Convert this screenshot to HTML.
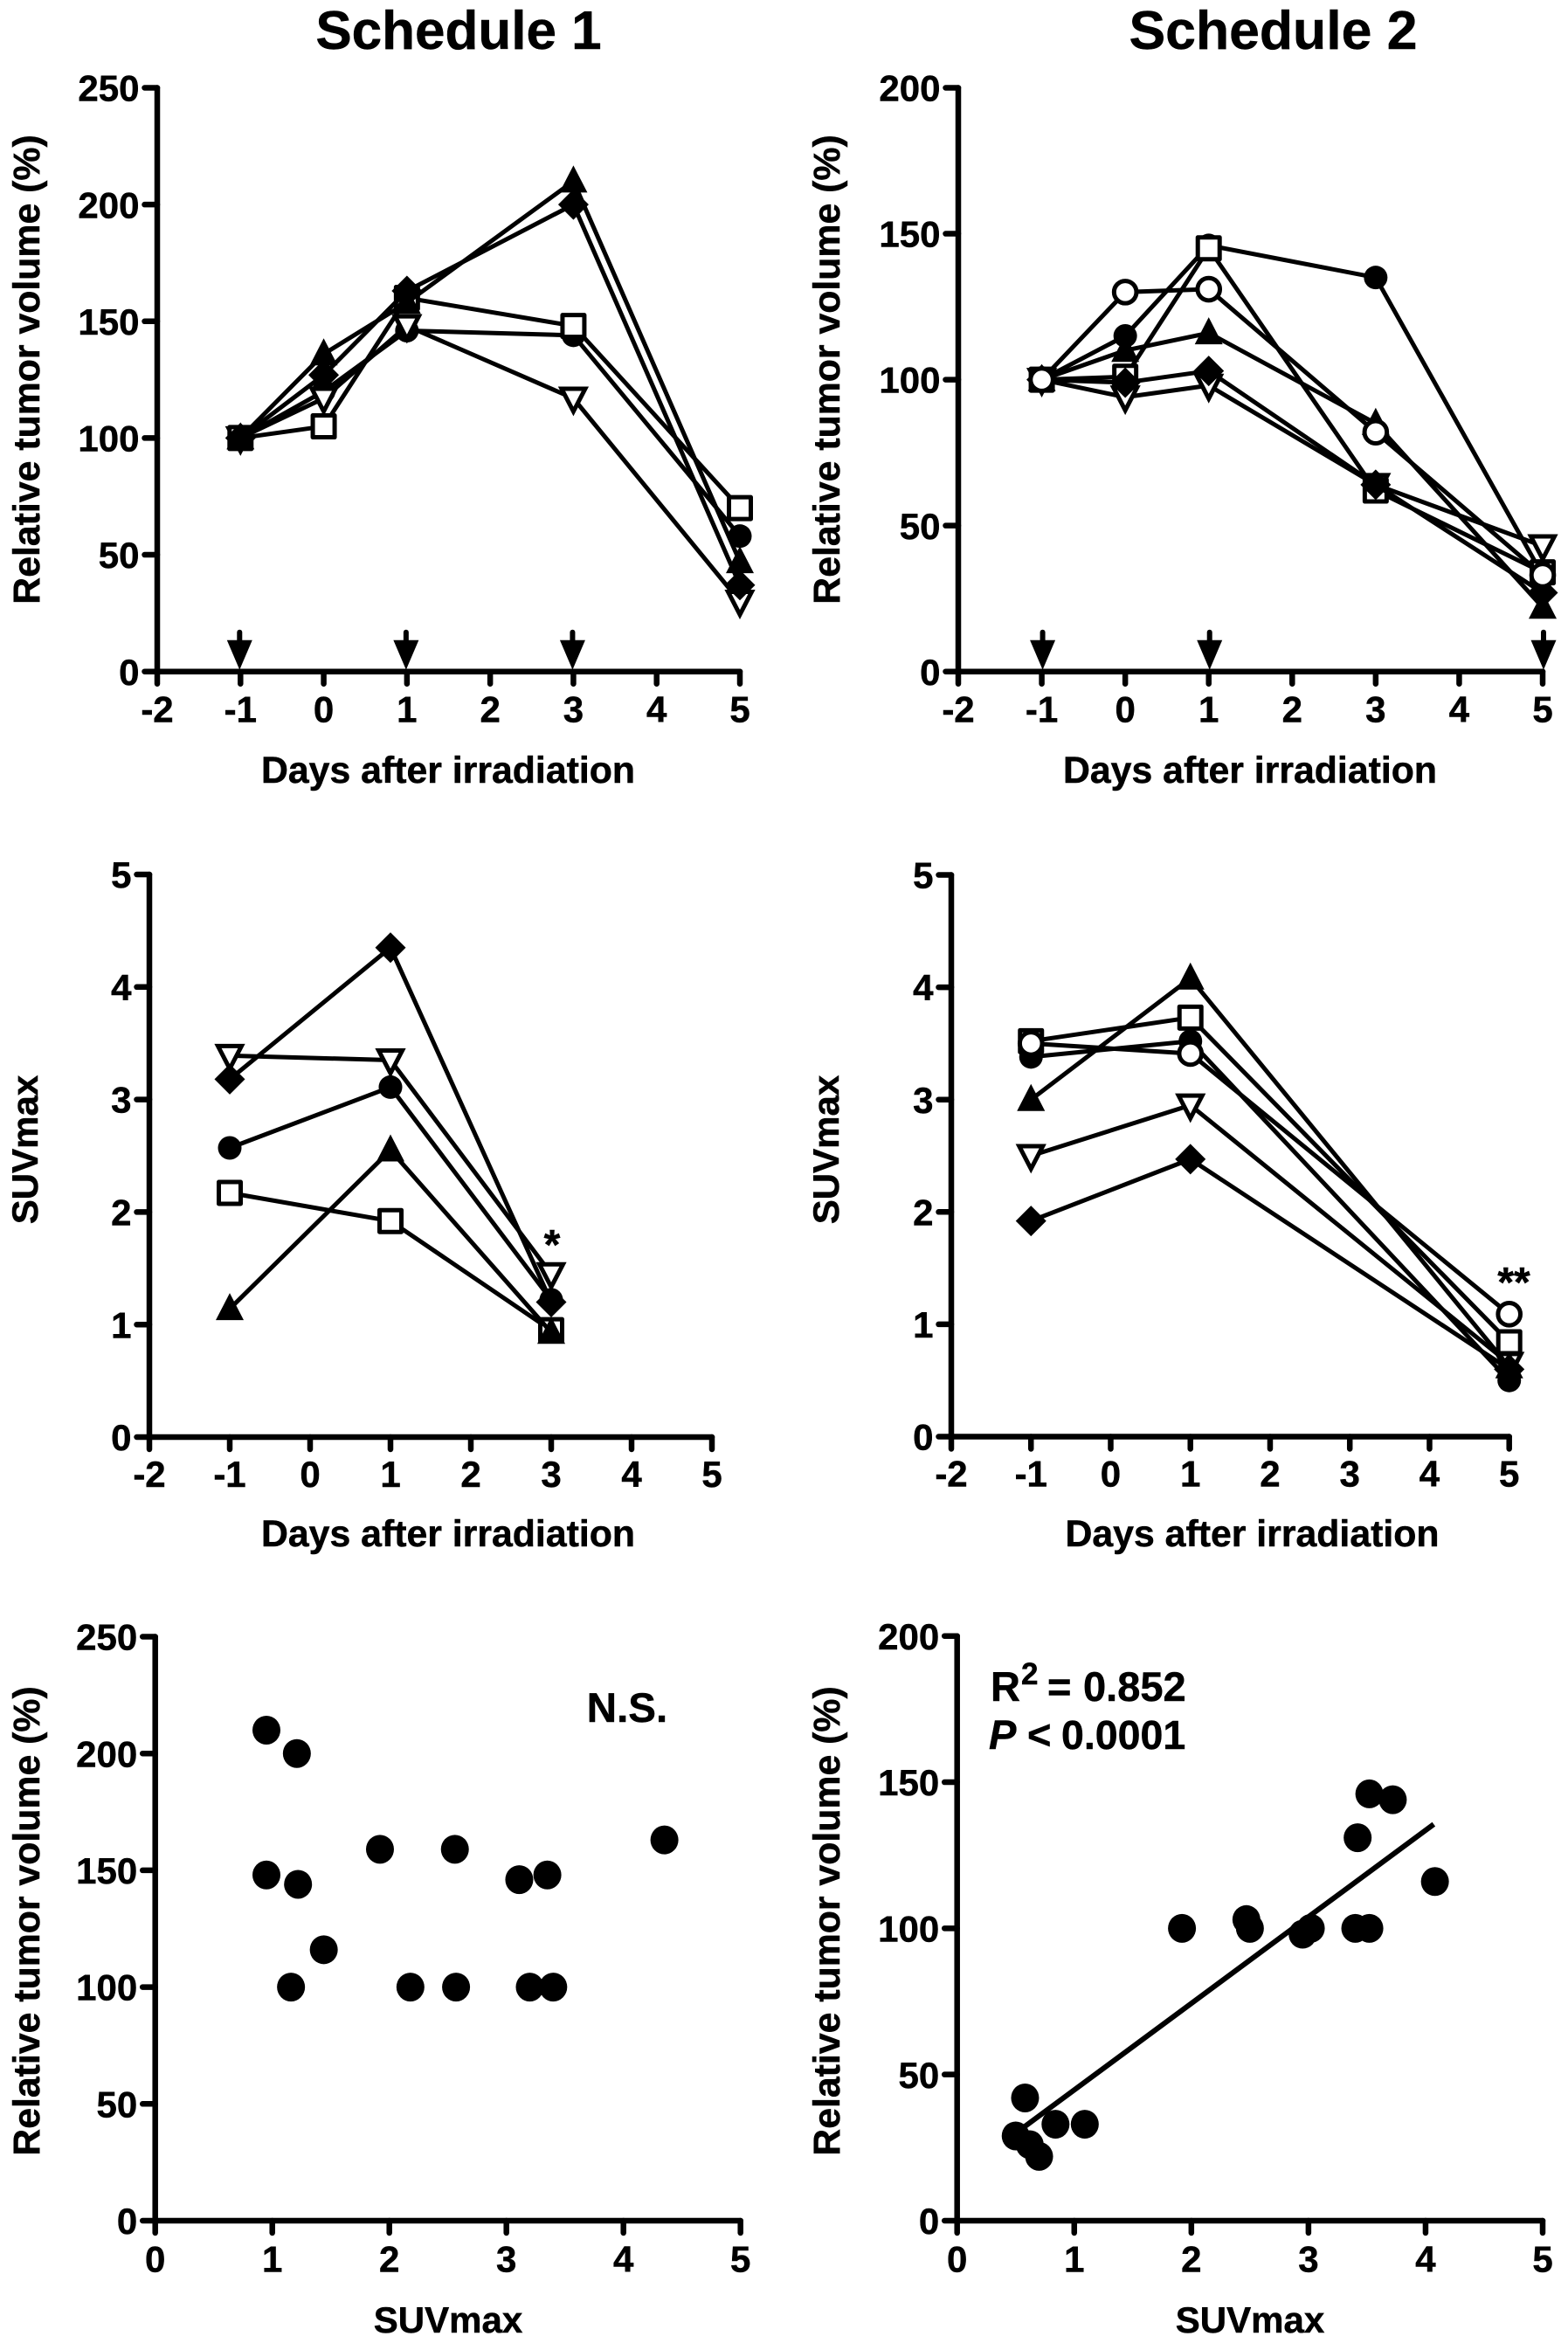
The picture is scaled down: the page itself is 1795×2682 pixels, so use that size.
<!DOCTYPE html>
<html lang="en">
<head>
<meta charset="utf-8">
<title>Schedule 1 and Schedule 2 tumor volume and SUVmax charts</title>
<style>
html,body{margin:0;padding:0;background:#fff;}
svg{display:block;}
text{font-family:"Liberation Sans",Arial,sans-serif;font-weight:bold;fill:#000;stroke:#000;stroke-width:0.5px;}
</style>
</head>
<body>
<svg id="figure" xmlns="http://www.w3.org/2000/svg" width="1795" height="2682" viewBox="0 0 1795 2682">
  <rect x="0" y="0" width="1795" height="2682" fill="#fff"/>

  <text x="525" y="56" font-size="62" text-anchor="middle">Schedule 1</text>
  <text x="1457.5" y="56" font-size="62.5" text-anchor="middle">Schedule 2</text>

  <g id="panel1">
    <text transform="translate(45,423) rotate(-90)" font-size="42.8" text-anchor="middle">Relative tumor volume (%)</text>
    <text x="513" y="896" font-size="42.8" text-anchor="middle">Days after irradiation</text>
  </g>
  <g id="panel2">
    <text transform="translate(961,423) rotate(-90)" font-size="42.8" text-anchor="middle">Relative tumor volume (%)</text>
    <text x="1431" y="896" font-size="42.8" text-anchor="middle">Days after irradiation</text>
  </g>
  <g id="panel3">
    <text transform="translate(43,1316) rotate(-90)" font-size="42" text-anchor="middle">SUVmax</text>
    <text x="513" y="1770" font-size="42.8" text-anchor="middle">Days after irradiation</text>
    <text x="632" y="1441" font-size="48" text-anchor="middle">*</text>
  </g>
  <g id="panel4">
    <text transform="translate(960,1316) rotate(-90)" font-size="42" text-anchor="middle">SUVmax</text>
    <text x="1433.5" y="1770" font-size="42.8" text-anchor="middle">Days after irradiation</text>
    <text x="1733" y="1484" font-size="48" text-anchor="middle">**</text>
  </g>
  <g id="panel5">
    <text transform="translate(45,2199) rotate(-90)" font-size="42.8" text-anchor="middle">Relative tumor volume (%)</text>
    <text x="513" y="2670" font-size="42" text-anchor="middle">SUVmax</text>
    <text x="718" y="1971" font-size="47.5" text-anchor="middle">N.S.</text>
  </g>
  <g id="panel6">
    <text transform="translate(961,2199) rotate(-90)" font-size="42.8" text-anchor="middle">Relative tumor volume (%)</text>
    <text x="1431" y="2670" font-size="42" text-anchor="middle">SUVmax</text>
    <text y="1947" font-size="47"><tspan x="1134">R</tspan><tspan x="1169" y="1928" font-size="35">2</tspan><tspan x="1199" y="1947">=</tspan><tspan x="1240" y="1947">0.852</tspan></text>
    <text y="2002" font-size="47"><tspan x="1132" font-style="italic">P</tspan><tspan x="1176">&lt;</tspan><tspan x="1215" font-size="46.5">0.0001</tspan></text>
  </g>
</svg>

<script>
// Shared tick labels
const dayTickLabels = [-2, -1, 0, 1, 2, 3, 4, 5];
const volumeTicks250 = [0, 50, 100, 150, 200, 250];
const volumeTicks200 = [0, 50, 100, 150, 200];
const suvTicks = [0, 1, 2, 3, 4, 5];
const suvXTicks = [0, 1, 2, 3, 4, 5];

// Panel 1: Schedule 1, relative tumor volume
const p1Days = [-1, 0, 1, 3, 5];
const p1Circle = [100, 120, 146, 144, 58];
const p1InvTriangle = [100, 117, 148, 117, 30];
const p1Square = [100, 105, 160, 148, 70];
const p1Triangle = [100, 136, 158, 210, 47];
const p1Diamond = [100, 127, 163, 200, 37];
const p1ArrowDays = [-1, 1, 3];

// Panel 2: Schedule 2, relative tumor volume
const p2Days = [-1, 0, 1, 3, 5];
const p2Triangle = [100, 110, 116, 85, 22];
const p2Circle = [100, 115, 146, 135, 33];
const p2InvTriangle = [100, 94, 98, 64, 43];
const p2Square = [100, 101, 145, 62, 34];
const p2Diamond = [100, 99, 103, 64, 27];
const p2OpenCircle = [100, 130, 131, 82, 33];
const p2ArrowDays = [-1, 1, 5];

// Panel 3: Schedule 1, SUVmax
const p3Days = [-1, 1, 3];
const p3Circle = [2.57, 3.11, 1.22];
const p3InvTriangle = [3.39, 3.35, 1.45];
const p3Square = [2.17, 1.92, 0.95];
const p3Triangle = [1.14, 2.55, 0.93];
const p3Diamond = [3.18, 4.35, 1.2];

// Panel 4: Schedule 2, SUVmax
const p4Days = [-1, 1, 5];
const p4Circle = [3.38, 3.52, 0.5];
const p4InvTriangle = [2.5, 2.95, 0.65];
const p4Square = [3.52, 3.73, 0.84];
const p4Triangle = [3.0, 4.08, 0.62];
const p4Diamond = [1.92, 2.47, 0.6];
const p4OpenCircle = [3.5, 3.41, 1.09];

// Panel 5: Schedule 1 scatter
const p5Suv = [0.95, 1.21, 0.95, 1.22, 1.44, 1.16, 1.92, 2.56, 2.18, 2.57, 3.11, 3.35, 3.2, 3.4, 4.35];
const p5Volume = [210, 200, 148, 144, 116, 100, 159, 159, 100, 100, 146, 148, 100, 100, 163];

// Panel 6: Schedule 2 scatter and regression
const p6Suv = [0.5, 0.58, 0.62, 0.7, 0.84, 1.09, 1.92, 2.47, 2.5, 2.95, 3.02, 3.4, 3.52, 3.42, 3.52, 3.72, 4.08];
const p6Volume = [29, 42, 26, 22, 33, 33, 100, 103, 100, 98, 100, 100, 100, 131, 146, 144, 116];
const p6FitSuv = [0.57, 4.07];
const p6FitVolume = [32, 135.6];

const SVG_NS = 'http://www.w3.org/2000/svg';
const LINE_W = 5;
const AXIS_W = 6.5;

function mk(tag, parent, attrs) {
  const el = document.createElementNS(SVG_NS, tag);
  for (const k in attrs) el.setAttribute(k, attrs[k]);
  parent.appendChild(el);
  return el;
}
function linearScale(d0, d1, r0, r1) {
  return function (v) { return r0 + (v - d0) * (r1 - r0) / (d1 - d0); };
}
function drawAxes(g, sx, sy, xTicks, yTicks, cfg) {
  const axes = mk('g', g, {});
  
  
  const x0 = sx(xTicks[0]), x1 = sx(xTicks[xTicks.length - 1]);
  const y0 = sy(yTicks[0]), y1 = sy(yTicks[yTicks.length - 1]);
  const common = {stroke: '#000', 'stroke-width': AXIS_W, 'stroke-linecap': 'round'};
  const yLine = mk('line', axes, Object.assign({x1: x0, y1: y0, x2: x0, y2: y1}, common));
  
  
  const xLine = mk('line', axes, Object.assign({x1: x0, y1: y0, x2: x1, y2: y0}, common));
  
  
  xTicks.forEach(function (t) {
    const tick = mk('line', axes, Object.assign({x1: sx(t), y1: y0, x2: sx(t), y2: y0 + 14}, common));
    
    
    const label = mk('text', axes, {x: sx(t), y: y0 + cfg.xLabelDy, 'font-size': cfg.tickSize, 'text-anchor': 'middle'});
    label.textContent = String(t);
    
    
  });
  yTicks.forEach(function (t) {
    const tick = mk('line', axes, Object.assign({x1: x0 - 14.5, y1: sy(t), x2: x0, y2: sy(t)}, common));
    
    
    const label = mk('text', axes, {x: x0 - 20.5, y: sy(t) + cfg.tickSize * 0.36, 'font-size': cfg.tickSize, 'text-anchor': 'end'});
    label.textContent = String(t);
    
    
  });
}
function drawMarker(parent, shape, cx, cy) {
  let m;
  if (shape === 'circle') {
    m = mk('circle', parent, {cx: cx, cy: cy, r: 13.5, fill: '#000'});
  } else if (shape === 'openCircle') {
    m = mk('circle', parent, {cx: cx, cy: cy, r: 12.8, fill: '#fff', stroke: '#000', 'stroke-width': LINE_W});
  } else if (shape === 'square') {
    m = mk('rect', parent, {x: cx - 12.5, y: cy - 12.5, width: 25, height: 25, fill: '#fff', stroke: '#000', 'stroke-width': LINE_W, 'stroke-linejoin': 'round'});
  } else if (shape === 'triangle') {
    m = mk('polygon', parent, {points: (cx - 16) + ',' + (cy + 13) + ' ' + (cx + 16) + ',' + (cy + 13) + ' ' + cx + ',' + (cy - 18), fill: '#000'});
  } else if (shape === 'invTriangle') {
    m = mk('polygon', parent, {points: (cx - 13.5) + ',' + (cy - 11) + ' ' + (cx + 13.5) + ',' + (cy - 11) + ' ' + cx + ',' + (cy + 15), fill: '#fff', stroke: '#000', 'stroke-width': LINE_W, 'stroke-linejoin': 'miter'});
  } else {
    m = mk('polygon', parent, {points: (cx - 17.5) + ',' + cy + ' ' + cx + ',' + (cy - 17.5) + ' ' + (cx + 17.5) + ',' + cy + ' ' + cx + ',' + (cy + 17.5), fill: '#000'});
  }
  return m;
}
function drawSeries(g, sx, sy, days, values, shape, name) {
  const s = mk('g', g, {});
  
  
  const pts = days.map(function (d, i) { return sx(d) + ',' + sy(values[i]); }).join(' ');
  const line = mk('polyline', s, {points: pts, fill: 'none', stroke: '#000', 'stroke-width': LINE_W, 'stroke-linejoin': 'round'});
  
  
  days.forEach(function (d, i) {
    const m = drawMarker(s, shape, sx(d), sy(values[i]));
    
    
  });
}
function drawArrows(g, sx, y0, days, dx) {
  days.forEach(function (d) {
    const a = mk('g', g, {});
    
    
    const x = sx(d) + dx;
    mk('line', a, {x1: x, y1: y0 - 45, x2: x, y2: y0 - 30, stroke: '#000', 'stroke-width': 6, 'stroke-linecap': 'round'});
    mk('polygon', a, {points: (x - 14.5) + ',' + (y0 - 36) + ' ' + (x + 14.5) + ',' + (y0 - 36) + ' ' + x + ',' + (y0 - 2), fill: '#000'});
  });
}
function drawDots(g, sx, sy, xs, ys) {
  xs.forEach(function (x, i) {
    const dot = mk('ellipse', g, {cx: sx(x), cy: sy(ys[i]), rx: 16, ry: 16.5, fill: '#000'});
    
    
  });
}

// Panel 1
(function () {
  const g = document.getElementById('panel1');
  const sx = linearScale(-2, 5, 180, 847);
  const sy = linearScale(0, 250, 768.7, 100.5);
  drawAxes(g, sx, sy, dayTickLabels, volumeTicks250, {xLabelDy: 58, tickSize: 42});
  drawArrows(g, sx, 768.7, p1ArrowDays, -1);
  drawSeries(g, sx, sy, p1Days, p1Circle, 'circle', 'circle-series');
  drawSeries(g, sx, sy, p1Days, p1InvTriangle, 'invTriangle', 'inverted-triangle-series');
  drawSeries(g, sx, sy, p1Days, p1Square, 'square', 'square-series');
  drawSeries(g, sx, sy, p1Days, p1Triangle, 'triangle', 'triangle-series');
  drawSeries(g, sx, sy, p1Days, p1Diamond, 'diamond', 'diamond-series');
})();

// Panel 2
(function () {
  const g = document.getElementById('panel2');
  const sx = linearScale(-2, 5, 1097, 1766);
  const sy = linearScale(0, 200, 768.7, 100.5);
  drawAxes(g, sx, sy, dayTickLabels, volumeTicks200, {xLabelDy: 58, tickSize: 42});
  drawArrows(g, sx, 768.7, p2ArrowDays, 1);
  drawSeries(g, sx, sy, p2Days, p2Triangle, 'triangle', 'triangle-series');
  drawSeries(g, sx, sy, p2Days, p2Circle, 'circle', 'circle-series');
  drawSeries(g, sx, sy, p2Days, p2InvTriangle, 'invTriangle', 'inverted-triangle-series');
  drawSeries(g, sx, sy, p2Days, p2Square, 'square', 'square-series');
  drawSeries(g, sx, sy, p2Days, p2Diamond, 'diamond', 'diamond-series');
  drawSeries(g, sx, sy, p2Days, p2OpenCircle, 'openCircle', 'open-circle-series');
})();

// Panel 3
(function () {
  const g = document.getElementById('panel3');
  const sx = linearScale(-2, 5, 171, 815);
  const sy = linearScale(0, 5, 1645, 1001);
  drawAxes(g, sx, sy, dayTickLabels, suvTicks, {xLabelDy: 57, tickSize: 42});
  drawSeries(g, sx, sy, p3Days, p3Circle, 'circle', 'circle-series');
  drawSeries(g, sx, sy, p3Days, p3InvTriangle, 'invTriangle', 'inverted-triangle-series');
  drawSeries(g, sx, sy, p3Days, p3Square, 'square', 'square-series');
  drawSeries(g, sx, sy, p3Days, p3Triangle, 'triangle', 'triangle-series');
  drawSeries(g, sx, sy, p3Days, p3Diamond, 'diamond', 'diamond-series');
})();

// Panel 4
(function () {
  const g = document.getElementById('panel4');
  const sx = linearScale(-2, 5, 1089, 1727.7);
  const sy = linearScale(0, 5, 1644.5, 1001.5);
  drawAxes(g, sx, sy, dayTickLabels, suvTicks, {xLabelDy: 57, tickSize: 42});
  drawSeries(g, sx, sy, p4Days, p4Circle, 'circle', 'circle-series');
  drawSeries(g, sx, sy, p4Days, p4InvTriangle, 'invTriangle', 'inverted-triangle-series');
  drawSeries(g, sx, sy, p4Days, p4Square, 'square', 'square-series');
  drawSeries(g, sx, sy, p4Days, p4Triangle, 'triangle', 'triangle-series');
  drawSeries(g, sx, sy, p4Days, p4Diamond, 'diamond', 'diamond-series');
  drawSeries(g, sx, sy, p4Days, p4OpenCircle, 'openCircle', 'open-circle-series');
})();

// Panel 5
(function () {
  const g = document.getElementById('panel5');
  const sx = linearScale(0, 5, 177.7, 847.7);
  const sy = linearScale(0, 250, 2542, 1873.5);
  drawAxes(g, sx, sy, suvXTicks, volumeTicks250, {xLabelDy: 58.7, tickSize: 42});
  drawDots(g, sx, sy, p5Suv, p5Volume);
})();

// Panel 6
(function () {
  const g = document.getElementById('panel6');
  const sx = linearScale(0, 5, 1095.7, 1766);
  const sy = linearScale(0, 200, 2542, 1872.7);
  drawAxes(g, sx, sy, suvXTicks, volumeTicks200, {xLabelDy: 58.7, tickSize: 42});
  drawDots(g, sx, sy, p6Suv, p6Volume);
  const fit = mk('line', g, {x1: sx(p6FitSuv[0]), y1: sy(p6FitVolume[0]), x2: sx(p6FitSuv[1]), y2: sy(p6FitVolume[1]), stroke: '#000', 'stroke-width': 6});
  
  
})();
</script>
</body>
</html>
